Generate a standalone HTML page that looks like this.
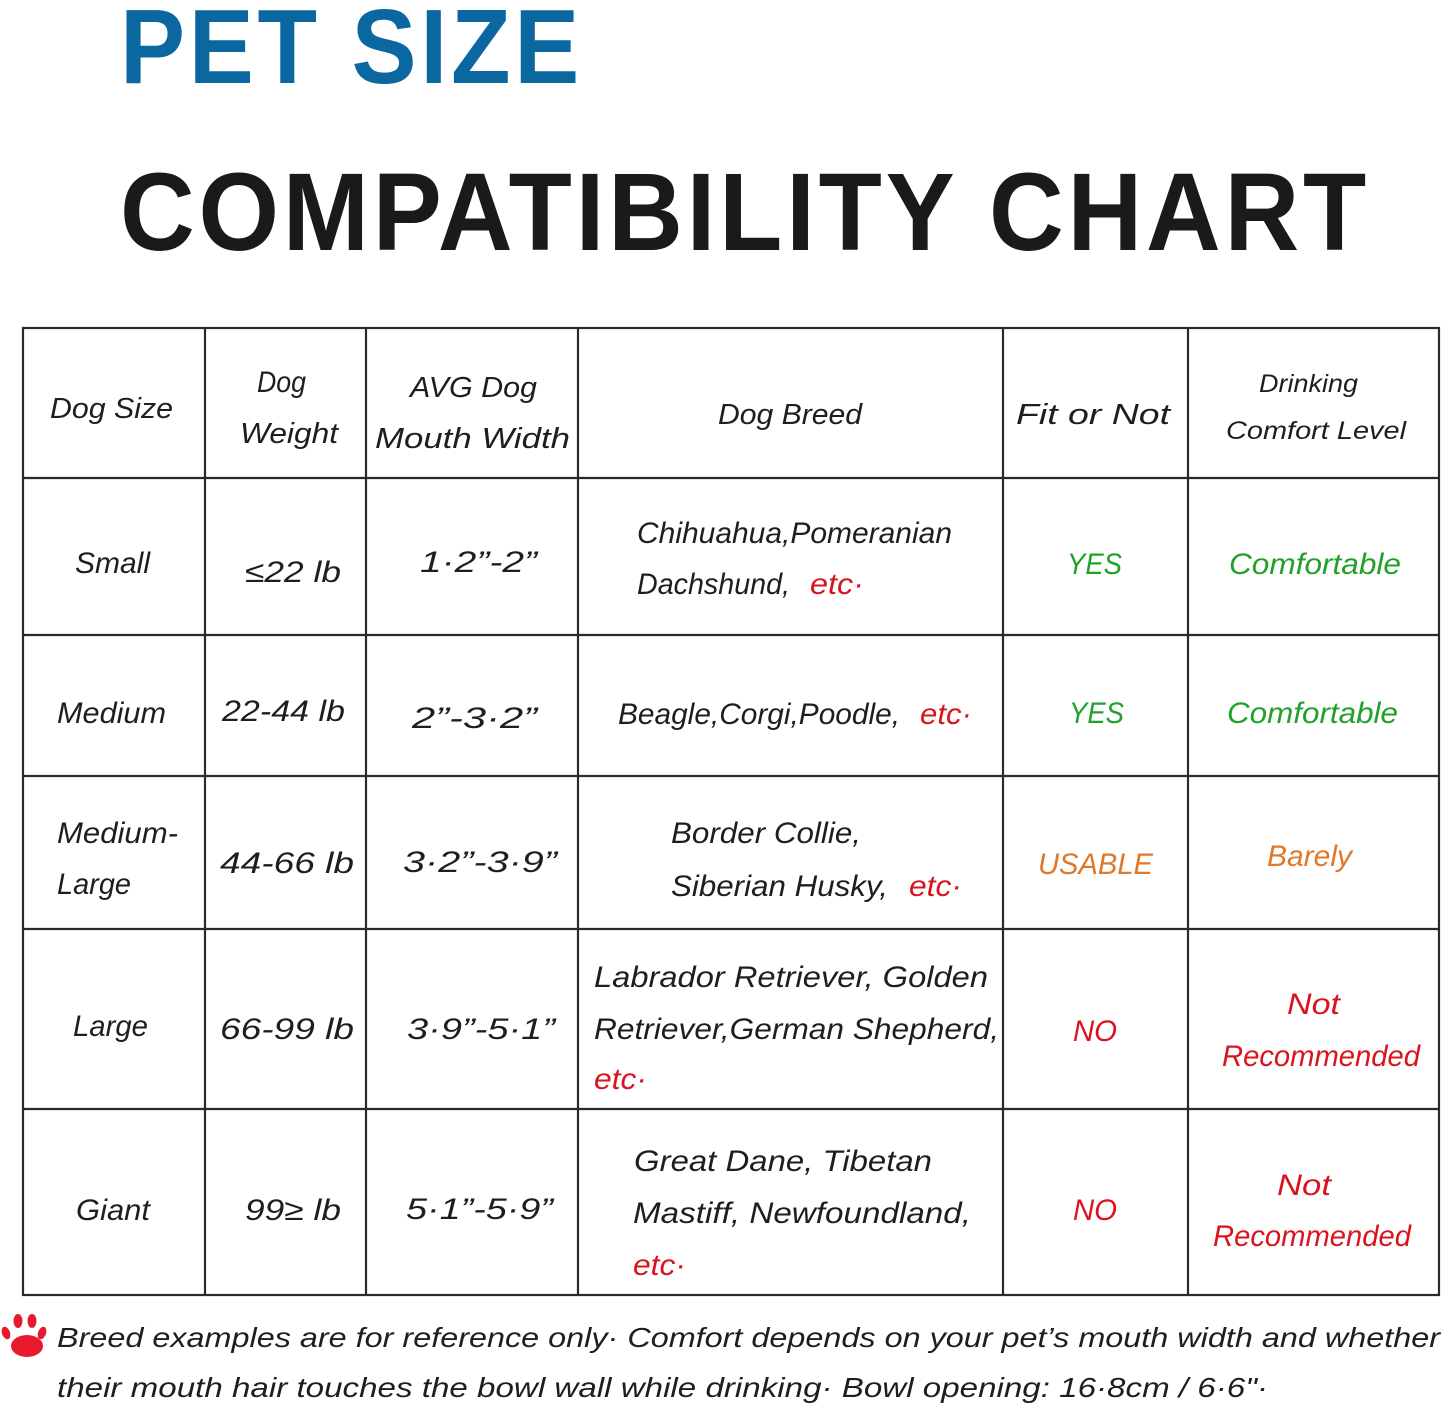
<!DOCTYPE html>
<html>
<head>
<meta charset="utf-8">
<style>
  html,body{margin:0;padding:0;background:#fff;}
  body{width:1445px;height:1406px;overflow:hidden;}
  svg{display:block;}
  .h{font-family:"Liberation Sans",sans-serif;font-style:italic;fill:#1e1e1e;}
  .t{font-family:"Liberation Sans",sans-serif;font-weight:bold;}
  .g{fill:#22a02a;}
  .o{fill:#e0782a;}
  .r{fill:#d9141e;}
</style>
</head>
<body>
<svg width="1445" height="1406" viewBox="0 0 1445 1406" xmlns="http://www.w3.org/2000/svg">
  <rect x="0" y="0" width="1445" height="1406" fill="#fff"/>

  <!-- Titles -->
  <text class="t" x="120" y="83" font-size="106" fill="#0b679f" letter-spacing="4" textLength="463" lengthAdjust="spacingAndGlyphs">PET SIZE</text>
  <text class="t" x="120" y="250" font-size="110" fill="#1a1a1a" letter-spacing="4" textLength="1250" lengthAdjust="spacingAndGlyphs">COMPATIBILITY CHART</text>

  <!-- Grid -->
  <g stroke="#2a2a2a" stroke-width="2.2" fill="none">
    <rect x="23" y="328" width="1416" height="967"/>
    <line x1="205" y1="328" x2="205" y2="1295"/>
    <line x1="366" y1="328" x2="366" y2="1295"/>
    <line x1="578" y1="328" x2="578" y2="1295"/>
    <line x1="1003" y1="328" x2="1003" y2="1295"/>
    <line x1="1188" y1="328" x2="1188" y2="1295"/>
    <line x1="23" y1="478" x2="1439" y2="478"/>
    <line x1="23" y1="635" x2="1439" y2="635"/>
    <line x1="23" y1="776" x2="1439" y2="776"/>
    <line x1="23" y1="929" x2="1439" y2="929"/>
    <line x1="23" y1="1109" x2="1439" y2="1109"/>
  </g>

  <!-- Header -->
  <g class="h" font-size="29">
    <text x="50" y="418" textLength="123" lengthAdjust="spacingAndGlyphs">Dog Size</text>
    <text x="257" y="392" font-size="30" textLength="49" lengthAdjust="spacingAndGlyphs">Dog</text>
    <text x="240" y="443" textLength="98" lengthAdjust="spacingAndGlyphs">Weight</text>
    <text x="410" y="397" textLength="127" lengthAdjust="spacingAndGlyphs">AVG Dog</text>
    <text x="375" y="448" textLength="195" lengthAdjust="spacingAndGlyphs">Mouth Width</text>
    <text x="718" y="424" textLength="144" lengthAdjust="spacingAndGlyphs">Dog Breed</text>
    <text x="1016" y="424" textLength="154" lengthAdjust="spacingAndGlyphs">Fit or Not</text>
    <text x="1259" y="392" font-size="25" textLength="99" lengthAdjust="spacingAndGlyphs">Drinking</text>
    <text x="1226" y="439" font-size="25" textLength="180" lengthAdjust="spacingAndGlyphs">Comfort Level</text>
  </g>

  <!-- Row 1 -->
  <g class="h" font-size="30">
    <text x="75" y="573" textLength="75" lengthAdjust="spacingAndGlyphs">Small</text>
    <text x="245" y="582" textLength="96" lengthAdjust="spacingAndGlyphs">≤22 lb</text>
    <text x="420" y="572" textLength="117" lengthAdjust="spacingAndGlyphs">1·2”-2”</text>
    <text x="637" y="543" textLength="315" lengthAdjust="spacingAndGlyphs">Chihuahua,Pomeranian</text>
    <text x="637" y="594" textLength="153" lengthAdjust="spacingAndGlyphs">Dachshund,</text>
    <text class="r" x="810" y="594" textLength="54" lengthAdjust="spacingAndGlyphs">etc·</text>
    <text class="g" x="1067" y="574" textLength="55" lengthAdjust="spacingAndGlyphs">YES</text>
    <text class="g" x="1229" y="574" textLength="172" lengthAdjust="spacingAndGlyphs">Comfortable</text>
  </g>

  <!-- Row 2 -->
  <g class="h" font-size="30">
    <text x="57" y="723" textLength="109" lengthAdjust="spacingAndGlyphs">Medium</text>
    <text x="222" y="721" textLength="123" lengthAdjust="spacingAndGlyphs">22-44 lb</text>
    <text x="412" y="728" textLength="125" lengthAdjust="spacingAndGlyphs">2”-3·2”</text>
    <text x="618" y="724" textLength="282" lengthAdjust="spacingAndGlyphs">Beagle,Corgi,Poodle,</text>
    <text class="r" x="920" y="724" textLength="52" lengthAdjust="spacingAndGlyphs">etc·</text>
    <text class="g" x="1069" y="723" textLength="55" lengthAdjust="spacingAndGlyphs">YES</text>
    <text class="g" x="1227" y="723" textLength="171" lengthAdjust="spacingAndGlyphs">Comfortable</text>
  </g>

  <!-- Row 3 -->
  <g class="h" font-size="30">
    <text x="57" y="843" textLength="121" lengthAdjust="spacingAndGlyphs">Medium-</text>
    <text x="57" y="894" textLength="74" lengthAdjust="spacingAndGlyphs">Large</text>
    <text x="220" y="873" textLength="134" lengthAdjust="spacingAndGlyphs">44-66 lb</text>
    <text x="403" y="872" textLength="154" lengthAdjust="spacingAndGlyphs">3·2”-3·9”</text>
    <text x="671" y="843" textLength="190" lengthAdjust="spacingAndGlyphs">Border Collie,</text>
    <text x="671" y="896" textLength="217" lengthAdjust="spacingAndGlyphs">Siberian Husky,</text>
    <text class="r" x="909" y="896" textLength="53" lengthAdjust="spacingAndGlyphs">etc·</text>
    <text class="o" x="1038" y="874" textLength="115" lengthAdjust="spacingAndGlyphs">USABLE</text>
    <text class="o" x="1267" y="866" textLength="85" lengthAdjust="spacingAndGlyphs">Barely</text>
  </g>

  <!-- Row 4 -->
  <g class="h" font-size="30">
    <text x="73" y="1036" textLength="75" lengthAdjust="spacingAndGlyphs">Large</text>
    <text x="220" y="1039" textLength="134" lengthAdjust="spacingAndGlyphs">66-99 lb</text>
    <text x="407" y="1039" textLength="148" lengthAdjust="spacingAndGlyphs">3·9”-5·1”</text>
    <text x="594" y="987" textLength="394" lengthAdjust="spacingAndGlyphs">Labrador Retriever, Golden</text>
    <text x="594" y="1039" textLength="405" lengthAdjust="spacingAndGlyphs">Retriever,German Shepherd,</text>
    <text class="r" x="594" y="1089" textLength="53" lengthAdjust="spacingAndGlyphs">etc·</text>
    <text class="r" x="1073" y="1041" textLength="44" lengthAdjust="spacingAndGlyphs">NO</text>
    <text class="r" x="1287" y="1014" textLength="53" lengthAdjust="spacingAndGlyphs">Not</text>
    <text class="r" x="1222" y="1066" textLength="198" lengthAdjust="spacingAndGlyphs">Recommended</text>
  </g>

  <!-- Row 5 -->
  <g class="h" font-size="30">
    <text x="76" y="1220" textLength="74" lengthAdjust="spacingAndGlyphs">Giant</text>
    <text x="245" y="1220" textLength="96" lengthAdjust="spacingAndGlyphs">99≥ lb</text>
    <text x="406" y="1219" textLength="147" lengthAdjust="spacingAndGlyphs">5·1”-5·9”</text>
    <text x="634" y="1171" textLength="298" lengthAdjust="spacingAndGlyphs">Great Dane, Tibetan</text>
    <text x="633" y="1223" textLength="338" lengthAdjust="spacingAndGlyphs">Mastiff, Newfoundland,</text>
    <text class="r" x="633" y="1275" textLength="53" lengthAdjust="spacingAndGlyphs">etc·</text>
    <text class="r" x="1073" y="1220" textLength="44" lengthAdjust="spacingAndGlyphs">NO</text>
    <text class="r" x="1277" y="1195" textLength="54" lengthAdjust="spacingAndGlyphs">Not</text>
    <text class="r" x="1213" y="1246" textLength="198" lengthAdjust="spacingAndGlyphs">Recommended</text>
  </g>

  <!-- Paw icon -->
  <g fill="#e8192c">
    <ellipse cx="27" cy="1346" rx="16" ry="11"/>
    <ellipse cx="6" cy="1333" rx="4" ry="6.5" transform="rotate(-20 6 1333)"/>
    <ellipse cx="18" cy="1321" rx="4.5" ry="7"/>
    <ellipse cx="32" cy="1321" rx="4.5" ry="7"/>
    <ellipse cx="42" cy="1333" rx="4" ry="6.5" transform="rotate(20 42 1333)"/>
  </g>

  <!-- Footer -->
  <g class="h" font-size="28">
    <text x="57" y="1347" textLength="1383" lengthAdjust="spacingAndGlyphs">Breed examples are for reference only· Comfort depends on your pet’s mouth width and whether</text>
    <text x="57" y="1397" textLength="1211" lengthAdjust="spacingAndGlyphs">their mouth hair touches the bowl wall while drinking· Bowl opening: 16·8cm / 6·6"·</text>
  </g>
</svg>
</body>
</html>
